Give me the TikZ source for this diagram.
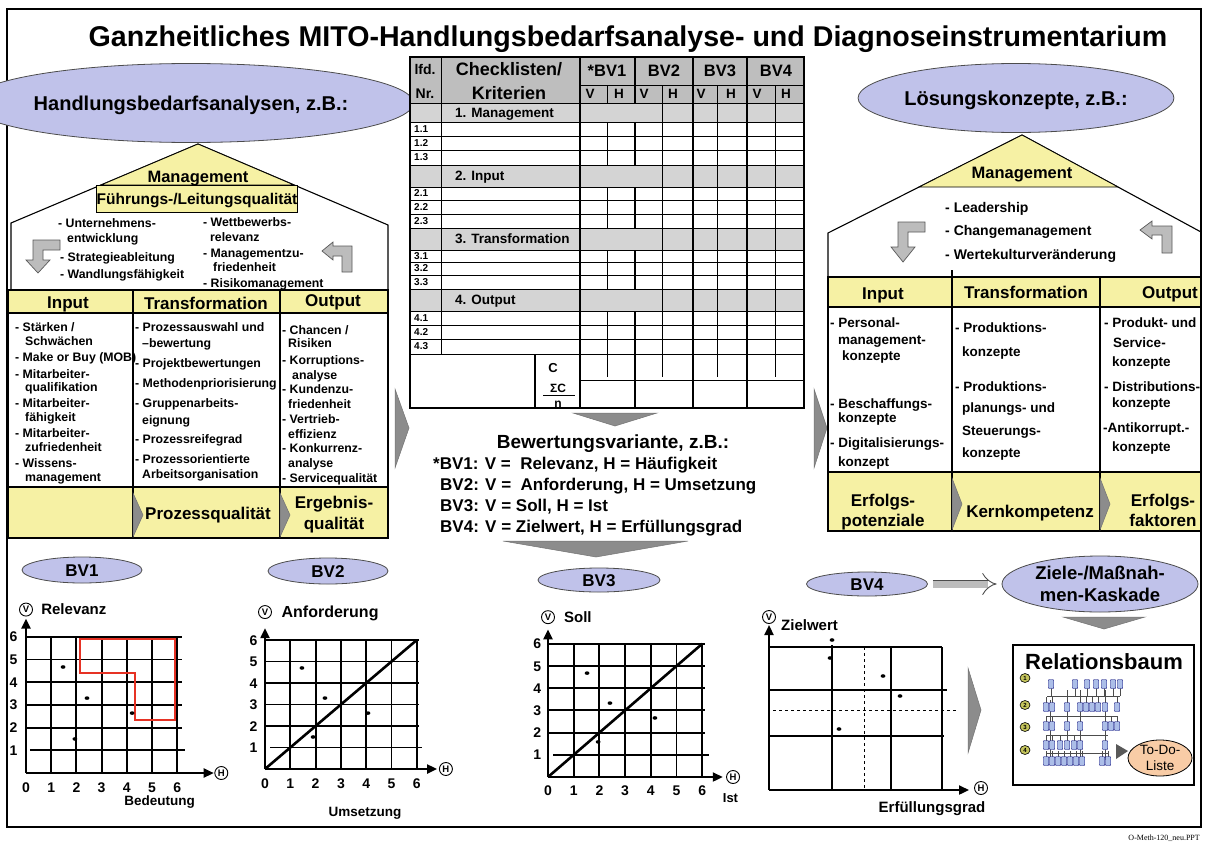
\documentclass[tikz,border=0pt]{standalone}
\usepackage{fontspec}
\setmainfont{Liberation Sans}
\newfontfamily\notefont{Liberation Serif}
\usetikzlibrary{shapes.geometric,arrows.meta}

\definecolor{lav}{RGB}{192,194,234}
\definecolor{hyel}{RGB}{246,241,164}
\definecolor{hdgray}{RGB}{190,190,190}
\definecolor{secgray}{RGB}{212,212,212}
\definecolor{chevgray}{RGB}{140,140,140}
\definecolor{arrgray}{RGB}{188,188,188}
\definecolor{peach}{RGB}{248,204,166}
\definecolor{leafblue}{RGB}{172,190,232}
\definecolor{lvlgreen}{RGB}{196,196,92}
\definecolor{zonered}{RGB}{230,50,36}

\newcommand\fsz[1]{\fontsize{#1}{#1}\selectfont}

\tikzset{
  tx/.style={font=\bfseries\fsz{#1}, inner sep=0pt, text height={0.72*#1pt}, text depth=0pt},
  ln/.style={tx=#1, anchor=west},
  oval/.style={ellipse, draw=black!70, line width=.8pt, fill=lav, inner sep=0pt},
  chev/.style={fill=chevgray, draw=black!55, line width=.5pt},
  bent/.style={fill=arrgray, draw=black!65, line width=.7pt},
  tline/.style={line width=1.2pt},
  gline/.style={line width=1.9pt},
  vaxis/.style={line width=2.2pt, -{Triangle[length=10pt,width=9pt]}},
  ring/.style={circle, draw, line width=.9pt, fill=white, inner sep=0pt, minimum size=13pt, font=\bfseries\fsz{9.5}},
  leaf/.style={draw=blue!45!black, fill=leafblue, line width=.4pt, rounded corners=.8pt, minimum width=5.5pt, minimum height=9pt, inner sep=0pt},
  lvl/.style={ellipse, draw, fill=lvlgreen, line width=.6pt, minimum width=10pt, minimum height=9pt, inner sep=0pt, font=\bfseries\fsz{6}},
  hollow/.style={draw=black!70, line width=.9pt, double=arrgray, double distance=7pt, -{Implies}, shorten <=5pt, shorten >=5pt},
}

\begin{document}
\begin{tikzpicture}[x=1pt,y=-1pt]
\useasboundingbox (0,0) rectangle (1206,843);
\fill[white] (0,0) rectangle (1206,843);

% frame and title
\draw[line width=2.5pt] (7,9) rectangle (1201,827);
\node[tx=28.6] (title) at (628,36) {Ganzheitliches MITO-Handlungsbedarfsanalyse- und Diagnoseinstrumentarium};
\node[font=\notefont\fsz{8}, anchor=east, inner sep=0pt] (note) at (1200,838) {O-Meth-120\_neu.PPT};

% left house
\draw[line width=1.1pt] (11,290) -- (11,223) -- (198,144) -- (388,225) -- (388,290);
\filldraw[fill=hyel, line width=.8pt] (101,185) -- (198,144) -- (294,185) -- cycle;
\node[tx=16.5] (lmgmt) at (198,177) {Management};
\node[tx=15.5, draw, fill=hyel, line width=.9pt, minimum width=200pt, minimum height=27pt] (lfq) at (197,198.5) {Führungs-/Leitungsqualität};
\node[oval, tx=20, minimum width=374pt, minimum height=79pt] (lhead) at (191,103) {Handlungsbedarfsanalysen, z.B.:};
\foreach \x/\y/\s [count=\k] in {58/223/{- Unternehmens-}, 67/238/entwicklung, 60/257/{- Strategieableitung}, 60/274/{- Wandlungsfähigkeit}, 203/222/{- Wettbewerbs-}, 210/237/relevanz, 203/253/{- Managementzu-}, 213/267/friedenheit, 203/283/{- Risikomanagement}}
  \node[ln=12.3] (lm\k) at (\x,\y) {\s};
\path[bent] (33,240) -- (60,240) -- (60,250) -- (43,250) -- (43,260) -- (50,260) -- (38,273) -- (26,260) -- (33,260) -- cycle;
\path[bent] (322,251) -- (333,242) -- (333,246) -- (352,246) -- (352,272) -- (342,272) -- (342,256) -- (333,256) -- (333,260) -- cycle;

% left table
\fill[hyel] (8,290) rectangle (388,313) (8,487) rectangle (388,538);
\draw[tline] (8,290) rectangle (388,538) (8,313) -- (388,313) (8,487) -- (388,487)
  (133,290) -- (133,538) (280,290) -- (280,538);
\node[tx=17] (lin) at (68,302) {Input};
\node[tx=17] (ltr) at (206,303) {Transformation};
\node[tx=17] (lout) at (333,300) {Output};
\foreach \x/\y/\s [count=\k] in {15/327/{- Stärken /}, 25/341/Schwächen, 15/357/{- Make or Buy (MOB)}, 15/374/{- Mitarbeiter-}, 25/387/qualifikation, 15/403/{- Mitarbeiter-}, 25/417/fähigkeit, 15/433/{- Mitarbeiter-}, 25/447/zufriedenheit, 15/463/{- Wissens-}, 25/477/management,
  135/327/{- Prozessauswahl und}, 142/343/{–bewertung}, 135/363/{- Projektbewertungen}, 135/383/{- Methodenpriorisierung}, 135/403/{- Gruppenarbeits-}, 142/420/eignung, 135/439/{- Prozessreifegrad}, 135/459/{- Prozessorientierte}, 142/474/Arbeitsorganisation,
  282/330/{- Chancen /}, 288/343/Risiken, 282/360/{- Korruptions-}, 292/375/analyse, 282/389/{- Kundenzu-}, 288/404/friedenheit, 282/419/{- Vertrieb-}, 288/434/effizienz, 282/448/{- Konkurrenz-}, 288/463/analyse, 282/478/{- Servicequalität}}
  \node[ln=12.3] (lt\k) at (\x,\y) {\s};
\path[chev] (133,493) -- (143,515) -- (133,537) -- cycle;
\path[chev] (280,493) -- (290,515) -- (280,537) -- cycle;
\node[tx=17] (lpq) at (208,513) {Prozessqualität};
\node[tx=17] (leq1) at (334,502) {Ergebnis-};
\node[tx=17] (leq2) at (334,523) {qualität};

% checklist table
\fill[hdgray] (410,57) rectangle (804,103);
\foreach \a/\b in {103/122,165/187,228/250,289/311}
  \fill[secgray] (410,\a) rectangle (804,\b);
\draw[line width=.9pt] (580,85) -- (804,85);
\foreach \y in {103,122,136,150,165,187,200,214,228,250,262,275,289,311,325,339,354}
  \draw[line width=.9pt] (410,\y) -- (804,\y);
\draw[line width=.9pt] (580,380) -- (804,380);
\draw[line width=1pt] (441,57) -- (441,354);
\draw[line width=1.2pt] (535,354) -- (535,408);
\foreach \x in {580,693,747} \draw[line width=1.8pt] (\x,57) -- (\x,408);
\foreach \a/\b in {57/103,122/165,187/228,250/289,311/408} \draw[line width=1.6pt] (635,\a) -- (635,\b);
\foreach \a/\b in {85/103,122/165,187/228,250/289,311/377} \draw[line width=.9pt] (607,\a) -- (607,\b);
\foreach \x in {662,717,775} \draw[line width=.9pt] (\x,85) -- (\x,377);
\draw[line width=1.4pt] (410,57) rectangle (804,408);
\node[tx=14] (lfd) at (425,69) {lfd.};
\node[tx=14] (lnr) at (425,93) {Nr.};
\node[tx=18] (chk1) at (509,69) {Checklisten/};
\node[tx=18] (chk2) at (509,93) {Kriterien};
\foreach \x/\s [count=\k] in {607/*BV1,664/BV2,720/BV3,776/BV4}
  \node[tx=16.5] (bvh\k) at (\x,71) {\s};
\foreach \x/\s [count=\k] in {590/V,619/H,644/V,673/H,701/V,731/H,757/V,786/H}
  \node[tx=13.5] (vh\k) at (\x,94) {\s};
\foreach \y/\s [count=\k] in {112.5/{1. Management},176/{2. Input},239/{3. Transformation},300/{4. Output}}
  \node[ln=13.5] (sec\k) at (455,\y) {\s};
\foreach \n/\y [count=\k] in {1.1/129,1.2/143,1.3/157,2.1/193,2.2/207,2.3/221,3.1/256,3.2/268,3.3/282,4.1/318,4.2/332,4.3/346}
  \node[ln=10] (nr\k) at (414,\y) {\n};
\node[tx=13] (cc) at (553,368) {C};
\node[tx=12] (csum) at (558,388) {ΣC};
\draw[line width=.8pt] (543,395.5) -- (575,395.5);
\node[tx=12] (cn) at (558,403) {n};

% evaluation variants
\path[chev] (573,413) -- (657,413) -- (615,426) -- cycle;
\node[tx=19] (bwtitle) at (613,442) {Bewertungsvariante, z.B.:};
\node[ln=17] (bw1) at (433,463) {*BV1: V = \ Relevanz, H = Häufigkeit};
\node[ln=17] (bw2) at (440,484) {BV2: V = \ Anforderung, H = Umsetzung};
\node[ln=17] (bw3) at (440,505) {BV3: V = Soll, H = Ist};
\node[ln=17] (bw4) at (440,526) {BV4: V = Zielwert, H = Erfüllungsgrad};
\path[chev] (503,541) -- (688,541) -- (596,557) -- cycle;
\path[chev] (395,389) -- (409,428) -- (395,468) -- cycle;
\path[chev] (814,389) -- (827,428) -- (814,468) -- cycle;

% right house
\draw[line width=1.1pt] (828,278) -- (828,233) -- (1022,135) -- (1201,232);
\filldraw[fill=hyel, line width=.8pt] (919,187) -- (1022,135) -- (1118,187) -- cycle;
\node[tx=16.5] (rmgmt) at (1022,173) {Management};
\node[oval, tx=20, minimum width=313pt, minimum height=69pt] (rhead) at (1016,98) {Lösungskonzepte, z.B.:};
\foreach \y/\s [count=\k] in {207/{- Leadership},230/{- Changemanagement},254/{- Wertekulturveränderung}}
  \node[ln=14] (rm\k) at (945,\y) {\s};
\path[bent] (898,222) -- (925,222) -- (925,232) -- (908,232) -- (908,247) -- (915,247) -- (903,262) -- (891,247) -- (898,247) -- cycle;
\path[bent] (1140,230) -- (1152,221) -- (1152,226) -- (1172,226) -- (1172,253) -- (1162,253) -- (1162,235) -- (1152,235) -- (1152,239) -- cycle;

% right table
\fill[hyel] (828,277) rectangle (1201,307) (828,472) rectangle (1201,531);
\draw[tline] (828,277) rectangle (1201,531) (828,307) -- (1201,307) (828,472) -- (1201,472)
  (952,270) -- (952,531) (1100,277) -- (1100,531);
\node[tx=17] (rin) at (883,293) {Input};
\node[tx=17] (rtr) at (1026,292) {Transformation};
\node[tx=17] (rout) at (1170,292) {Output};
\foreach \x/\y/\s [count=\k] in {830/323/{- Personal-}, 838/340/management-, 842/356/konzepte, 830/404/{- Beschaffungs-}, 838/418/konzepte, 830/443/{- Digitalisierungs-}, 838/462/konzept,
  955/328/{- Produktions-}, 962/352/konzepte, 955/387/{- Produktions-}, 962/408/{planungs- und}, 962/431/Steuerungs-, 962/453/konzepte,
  1104/323/{- Produkt- und}, 1113/343/Service-, 1112/362/konzepte, 1104/387/{- Distributions-}, 1112/403/konzepte, 1103/428/{-Antikorrupt.-}, 1112/447/konzepte}
  \node[ln=13.5] (rt\k) at (\x,\y) {\s};
\path[chev] (952,478) -- (962,504) -- (952,530) -- cycle;
\path[chev] (1100,478) -- (1110,504) -- (1100,530) -- cycle;
\node[tx=17] (rep1) at (883,500) {Erfolgs-};
\node[tx=17] (rep2) at (883,520) {potenziale};
\node[tx=17] (rkk) at (1030,511) {Kernkompetenz};
\node[tx=17] (rfk1) at (1163,500) {Erfolgs-};
\node[tx=17] (rfk2) at (1163,520) {faktoren};

% BV1
\node[oval, tx=17, minimum width=120pt, minimum height=26pt] (bv1) at (82,570) {BV1};
\begin{scope}[shift={(26,773)}, x=25.2pt, y=22.7pt]
  \foreach \i in {1,...,6} \draw[gline] (\i,0) -- (\i,6);
  \foreach \j in {2,...,6} \draw[gline] (0,\j) -- (6.2,\j);
  \draw[gline] (0.15,1) -- (6.3,1);
  \draw[line width=2.4pt, zonered] (2.14,5.9) -- (5.91,5.9) -- (5.91,2.33) -- (4.33,2.33) -- (4.33,4.41) -- (2.14,4.41) -- cycle;
  \foreach \a/\b in {1.47/4.67,2.42/3.30,4.21/2.64,1.94/1.50} \fill (\a,\b) ellipse [x radius=2.4pt, y radius=1.8pt];
  \draw[vaxis] (0,0) -- (0,6.8);
  \draw[vaxis] (0,0) -- (7.45,0);
  \node[ring] (b1v) at (0,7.2) {V};
  \node[ring] (b1h) at (7.75,0) {H};
  \node[ln=15] (b1vl) at (0.6,7.2) {Relevanz};
  \node[tx=13.5] (b1hl) at (5.3,-1.2) {Bedeutung};
  \foreach \i in {0,...,6} \node[tx=14] (b1x\i) at (\i,-0.62) {\i};
  \foreach \j in {1,...,6} \node[tx=14] (b1y\j) at (-0.5,\j) {\j};
\end{scope}

% BV2
\node[oval, tx=17, minimum width=120pt, minimum height=26pt] (bv2) at (328,571) {BV2};
\begin{scope}[shift={(265,769)}, x=25.3pt, y=21.5pt]
  \foreach \i in {1,...,6} \draw[gline] (\i,0) -- (\i,6);
  \foreach \j in {2,...,6} \draw[gline] (0,\j) -- (6.1,\j);
  \draw[gline] (0.2,1) -- (6.2,1);
  \draw[line width=2.6pt] (0,0) -- (6,6);
  \foreach \a/\b in {1.46/4.70,2.37/3.30,4.07/2.60,1.90/1.49} \fill (\a,\b) ellipse [x radius=2.4pt, y radius=1.8pt];
  \draw[vaxis] (0,0) -- (0,6.55);
  \draw[vaxis] (0,0) -- (6.8,0);
  \node[ring] (b2v) at (0,7.3) {V};
  \node[ring] (b2h) at (7.15,0) {H};
  \node[ln=16] (b2vl) at (0.65,7.3) {Anforderung};
  \node[tx=13.5] (b2hl) at (3.95,-2.0) {Umsetzung};
  \foreach \i in {0,...,6} \node[tx=14] (b2x\i) at (\i,-0.65) {\i};
  \foreach \j in {1,...,6} \node[tx=14] (b2y\j) at (-0.45,\j) {\j};
\end{scope}

% BV3
\node[oval, tx=17, minimum width=122pt, minimum height=24pt] (bv3) at (599,580) {BV3};
\begin{scope}[shift={(548,777)}, x=25.7pt, y=22.2pt]
  \foreach \i in {1,...,6} \draw[gline] (\i,0) -- (\i,6);
  \foreach \j in {2,...,6} \draw[gline] (0,\j) -- (6.1,\j);
  \draw[gline] (0.2,1) -- (6.25,1);
  \draw[line width=2.6pt] (0,0) -- (6,6);
  \foreach \a/\b in {1.52/4.68,2.41/3.33,4.16/2.66,1.95/1.58} \fill (\a,\b) ellipse [x radius=2.4pt, y radius=1.8pt];
  \draw[vaxis] (0,0) -- (0,6.65);
  \draw[vaxis] (0,0) -- (6.8,0);
  \node[ring] (b3v) at (0,7.2) {V};
  \node[ring] (b3h) at (7.2,0) {H};
  \node[ln=15] (b3vl) at (0.62,7.2) {Soll};
  \node[tx=13] (b3hl) at (7.1,-0.95) {Ist};
  \foreach \i in {0,...,6} \node[tx=14] (b3x\i) at (\i,-0.59) {\i};
  \foreach \j in {1,...,6} \node[tx=14] (b3y\j) at (-0.42,\j) {\j};
\end{scope}

% BV4
\node[oval, tx=17, minimum width=121pt, minimum height=24pt] (bv4) at (867,584) {BV4};
\draw[gline] (769,647) -- (942,647);
\draw[gline] (769,690) -- (947,690);
\draw[gline] (769,736) -- (944,736);
\draw[gline] (832,645) -- (832,790);
\draw[gline] (891,647) -- (891,790);
\draw[gline] (942,647) -- (942,790);
\draw[dashed, line width=1pt] (864,647) -- (864,790);
\draw[dashed, line width=1pt] (773,710) -- (958,710);
\foreach \a/\b in {832/640,830/658,883/676,900/696,839/729} \fill (\a,\b) ellipse [x radius=2.4pt, y radius=1.8pt];
\draw[vaxis] (769,790) -- (769,625);
\draw[vaxis] (769,790) -- (969,790);
\node[ring] (b4v) at (769,617) {V};
\node[ring] (b4h) at (981,788) {H};
\node[ln=15] (b4vl) at (781,625) {Zielwert};
\node[tx=15] (b4hl) at (932,807) {Erfüllungsgrad};
\path[chev] (968,668) -- (981,710) -- (968,753) -- cycle;

% cascade and relation tree
\node[oval, font=\bfseries\fsz{18.5}, align=center, minimum width=196pt, minimum height=56pt] (ziele) at (1100,584) {Ziele-/Maßnah-\\[3pt]men-Kaskade};
\draw[hollow] (bv4) -- (ziele);
\path[chev] (1063,617) -- (1145,617) -- (1104,629) -- cycle;
\draw[line width=1.6pt] (1013,645) rectangle (1194,785);
\node[tx=22] (rtitle) at (1104,662) {Relationsbaum};
\foreach \y [count=\k] in {678,705,727,750} \node[lvl] (lv\k) at (1025,\y) {\k};
\draw[black!70, line width=.5pt] (1047,696) -- (1120,696) (1047,716) -- (1117,716) (1047,735) -- (1108,735) (1047,753) -- (1108,753)
  (1050,700) -- (1050,760) (1067,690) -- (1067,745) (1080,690) -- (1080,760) (1105,690) -- (1105,760);
\foreach \x in {1051,1075,1087,1096,1104,1113,1120} \draw[black!70, line width=.5pt] (\x,688) -- (\x,696);
\foreach \y/\xs in {707/{1046,1052,1067,1080,1086,1092,1098,1105,1117}, 726/{1046,1052,1067,1080,1105,1111,1117}, 745/{1046,1052,1060,1067,1074,1080,1105}, 761/{1046,1052,1058,1064,1070,1076,1082,1102,1108}}
  \foreach \x in \xs \draw[black!70, line width=.5pt] (\x,\y-4) -- (\x,\y-10);
\foreach \y/\xs in {684/{1051,1075,1087,1096,1104,1113,1120}, 707/{1046,1052,1067,1080,1086,1092,1098,1105,1117}, 726/{1046,1052,1067,1080,1105,1111,1117}, 745/{1046,1052,1060,1067,1074,1080,1105}, 761/{1046,1052,1058,1064,1070,1076,1082,1102,1108}}
  \foreach \x in \xs \node[leaf] (lf\y-\x) at (\x,\y) {};
\fill[black!65] (1116,744) -- (1128,751) -- (1116,759) -- cycle;
\node[ellipse, draw, fill=peach, line width=.8pt, align=center, inner sep=0pt, font=\fsz{13.5}, minimum width=64pt, minimum height=36pt] (todo) at (1160,758) {To-Do-\\[2pt]Liste};
\end{tikzpicture}
\end{document}
